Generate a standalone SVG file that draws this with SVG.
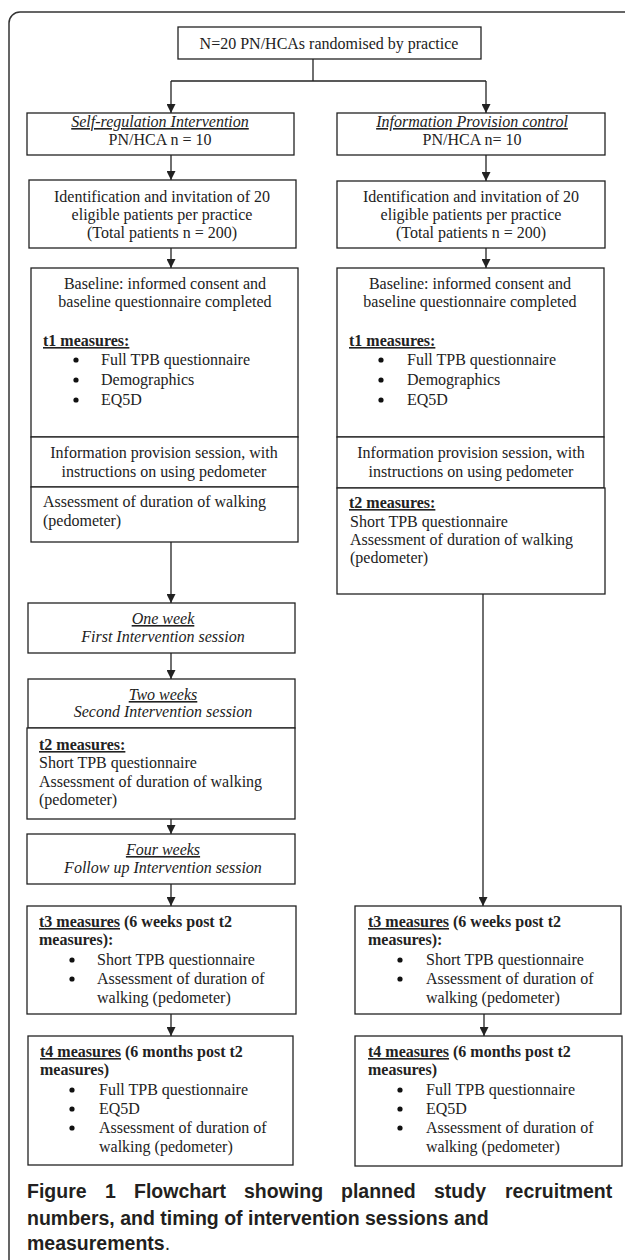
<svg xmlns="http://www.w3.org/2000/svg" width="625" height="1260" viewBox="0 0 625 1260">
<style>
.bx{fill:#fff;stroke:#222;stroke-width:1.3}
.t{font-family:"Liberation Serif","Times New Roman",serif;font-size:16px;fill:#222}
.c{text-anchor:middle}
.i{font-style:italic}
.b{font-weight:bold}
.u{text-decoration:underline}
.dot{fill:#111}
.ln{fill:none;stroke:#222;stroke-width:1.3}
.cap{font-family:"Liberation Sans",Arial,sans-serif;font-size:19.5px;font-weight:bold;fill:#231f20}
</style>
<defs>
<marker id="ah" markerUnits="userSpaceOnUse" markerWidth="9" markerHeight="9" refX="9" refY="4.5" orient="auto">
<path d="M0,0 L9,4.5 L0,9 z" fill="#222"/>
</marker>
</defs>
<rect x="0" y="0" width="625" height="1260" fill="#fff"/>
<rect id="frame" x="9" y="12" width="660" height="1300" rx="11" fill="none" stroke="#333" stroke-width="1.5"/>

<g id="connectors">
<path class="ln" d="M313,59 V81"/>
<path class="ln" d="M171,81 H486"/>
<path class="ln" d="M171,81 V113" marker-end="url(#ah)"/>
<path class="ln" d="M486,81 V113" marker-end="url(#ah)"/>
<path class="ln" d="M171,155 V180" marker-end="url(#ah)"/>
<path class="ln" d="M486,155 V181" marker-end="url(#ah)"/>
<path class="ln" d="M171,248 V268" marker-end="url(#ah)"/>
<path class="ln" d="M486,248 V268" marker-end="url(#ah)"/>
<path class="ln" d="M171,542 V603" marker-end="url(#ah)"/>
<path class="ln" d="M171,653 V679" marker-end="url(#ah)"/>
<path class="ln" d="M171,819 V834" marker-end="url(#ah)"/>
<path class="ln" d="M171,884 V906" marker-end="url(#ah)"/>
<path class="ln" d="M171,1014 V1036" marker-end="url(#ah)"/>
<path class="ln" d="M483,594 V906" marker-end="url(#ah)"/>
<path class="ln" d="M484,1014 V1036" marker-end="url(#ah)"/>
</g>

<g id="top">
<rect class="bx" x="178" y="27" width="303" height="32"/>
<text class="t c" x="329" y="49">N=20 PN/HCAs randomised by practice</text>
</g>

<g id="selfreg">
<rect class="bx" x="27" y="113" width="267" height="42"/>
<text class="t c" x="160" y="127"><tspan class="i u">Self-regulation Intervention</tspan></text>
<text class="t c" x="160" y="145">PN/HCA n = 10</text>
</g>
<g id="infoctrl">
<rect class="bx" x="337" y="113" width="268" height="42"/>
<text class="t c" x="472" y="127"><tspan class="i u">Information Provision control</tspan></text>
<text class="t c" x="472" y="145">PN/HCA n= 10</text>
</g>

<g id="ident-l">
<rect class="bx" x="29" y="180" width="267" height="68"/>
<text class="t c" x="162" y="202">Identification and invitation of 20</text>
<text class="t c" x="162" y="220">eligible patients per practice</text>
<text class="t c" x="162" y="238">(Total patients n = 200)</text>
</g>
<g id="ident-r">
<rect class="bx" x="337" y="181" width="268" height="67"/>
<text class="t c" x="471" y="202">Identification and invitation of 20</text>
<text class="t c" x="471" y="220">eligible patients per practice</text>
<text class="t c" x="471" y="238">(Total patients n = 200)</text>
</g>

<g id="baseline-l">
<rect class="bx" x="31" y="268" width="267" height="169"/>
<text class="t c" x="165" y="289">Baseline: informed consent and</text>
<text class="t c" x="165" y="307">baseline questionnaire completed</text>
<text class="t b u" x="43" y="346">t1 measures:</text>
<circle class="dot" cx="76" cy="360" r="2.6"/><text class="t" x="101" y="365">Full TPB questionnaire</text>
<circle class="dot" cx="76" cy="380" r="2.6"/><text class="t" x="101" y="385">Demographics</text>
<circle class="dot" cx="76" cy="400" r="2.6"/><text class="t" x="101" y="405">EQ5D</text>
</g>
<g id="baseline-r">
<rect class="bx" x="337" y="268" width="267" height="169"/>
<text class="t c" x="470" y="289">Baseline: informed consent and</text>
<text class="t c" x="470" y="307">baseline questionnaire completed</text>
<text class="t b u" x="349" y="346">t1 measures:</text>
<circle class="dot" cx="381" cy="360" r="2.6"/><text class="t" x="407" y="365">Full TPB questionnaire</text>
<circle class="dot" cx="381" cy="380" r="2.6"/><text class="t" x="407" y="385">Demographics</text>
<circle class="dot" cx="381" cy="400" r="2.6"/><text class="t" x="407" y="405">EQ5D</text>
</g>

<g id="session-l">
<rect class="bx" x="31" y="437" width="267" height="50"/>
<text class="t c" x="164" y="458">Information provision session, with</text>
<text class="t c" x="164" y="477">instructions on using pedometer</text>
</g>
<g id="session-r">
<rect class="bx" x="337" y="437" width="267" height="51"/>
<text class="t c" x="471" y="458">Information provision session, with</text>
<text class="t c" x="471" y="477">instructions on using pedometer</text>
</g>

<g id="assess-l">
<rect class="bx" x="31" y="487" width="267" height="55"/>
<text class="t" x="43" y="507">Assessment of duration of walking</text>
<text class="t" x="43" y="526">(pedometer)</text>
</g>
<g id="t2-r">
<rect class="bx" x="337" y="488" width="268" height="106"/>
<text class="t b u" x="349" y="508">t2 measures:</text>
<text class="t" x="350" y="527">Short TPB questionnaire</text>
<text class="t" x="350" y="545">Assessment of duration of walking</text>
<text class="t" x="350" y="563">(pedometer)</text>
</g>

<g id="oneweek">
<rect class="bx" x="28" y="603" width="267" height="50"/>
<text class="t c i" x="163" y="624"><tspan class="u">One week</tspan></text>
<text class="t c i" x="163" y="642">First Intervention session</text>
</g>

<g id="twoweeks">
<rect class="bx" x="28" y="679" width="267" height="49"/>
<text class="t c i" x="163" y="700"><tspan class="u">Two weeks</tspan></text>
<text class="t c i" x="163" y="717">Second Intervention session</text>
</g>

<g id="t2-l">
<rect class="bx" x="27" y="728" width="268" height="91"/>
<text class="t b u" x="39" y="750">t2 measures:</text>
<text class="t" x="39" y="768">Short TPB questionnaire</text>
<text class="t" x="39" y="787">Assessment of duration of walking</text>
<text class="t" x="39" y="805">(pedometer)</text>
</g>

<g id="fourweeks">
<rect class="bx" x="27" y="834" width="268" height="50"/>
<text class="t c i" x="163" y="855"><tspan class="u">Four weeks</tspan></text>
<text class="t c i" x="163" y="873">Follow up Intervention session</text>
</g>

<g id="t3-l">
<rect class="bx" x="27" y="906" width="269" height="108"/>
<text class="t b" x="39" y="927"><tspan class="u">t3 measures</tspan> (6 weeks post t2</text>
<text class="t b" x="39" y="945">measures):</text>
<circle class="dot" cx="72" cy="960" r="2.6"/><text class="t" x="97" y="965">Short TPB questionnaire</text>
<circle class="dot" cx="72" cy="979" r="2.6"/><text class="t" x="97" y="984">Assessment of duration of</text>
<text class="t" x="97" y="1003">walking (pedometer)</text>
</g>
<g id="t3-r">
<rect class="bx" x="355" y="906" width="266" height="108"/>
<text class="t b" x="368" y="927"><tspan class="u">t3 measures</tspan> (6 weeks post t2</text>
<text class="t b" x="368" y="945">measures):</text>
<circle class="dot" cx="400" cy="960" r="2.6"/><text class="t" x="426" y="965">Short TPB questionnaire</text>
<circle class="dot" cx="400" cy="979" r="2.6"/><text class="t" x="426" y="984">Assessment of duration of</text>
<text class="t" x="426" y="1003">walking (pedometer)</text>
</g>

<g id="t4-l">
<rect class="bx" x="28" y="1036" width="265" height="129"/>
<text class="t b" x="40" y="1057"><tspan class="u">t4 measures</tspan> (6 months post t2</text>
<text class="t b" x="40" y="1075">measures)</text>
<circle class="dot" cx="72" cy="1090" r="2.6"/><text class="t" x="99" y="1095">Full TPB questionnaire</text>
<circle class="dot" cx="72" cy="1109" r="2.6"/><text class="t" x="99" y="1114">EQ5D</text>
<circle class="dot" cx="72" cy="1128" r="2.6"/><text class="t" x="99" y="1133">Assessment of duration of</text>
<text class="t" x="99" y="1152">walking (pedometer)</text>
</g>
<g id="t4-r">
<rect class="bx" x="355" y="1036" width="267" height="130"/>
<text class="t b" x="368" y="1057"><tspan class="u">t4 measures</tspan> (6 months post t2</text>
<text class="t b" x="368" y="1075">measures)</text>
<circle class="dot" cx="400" cy="1090" r="2.6"/><text class="t" x="426" y="1095">Full TPB questionnaire</text>
<circle class="dot" cx="400" cy="1109" r="2.6"/><text class="t" x="426" y="1114">EQ5D</text>
<circle class="dot" cx="400" cy="1128" r="2.6"/><text class="t" x="426" y="1133">Assessment of duration of</text>
<text class="t" x="426" y="1152">walking (pedometer)</text>
</g>

<g id="caption">
<text class="cap" y="1198"><tspan x="27">Figure</tspan><tspan x="105">1</tspan><tspan x="134">Flowchart</tspan><tspan x="244">showing</tspan><tspan x="341">planned</tspan><tspan x="434">study</tspan><tspan x="505">recruitment</tspan></text>
<text class="cap" x="27" y="1225">numbers, and timing of intervention sessions and</text>
<text class="cap" x="27" y="1250">measurements<tspan font-weight="normal">.</tspan></text>
</g>
</svg>
